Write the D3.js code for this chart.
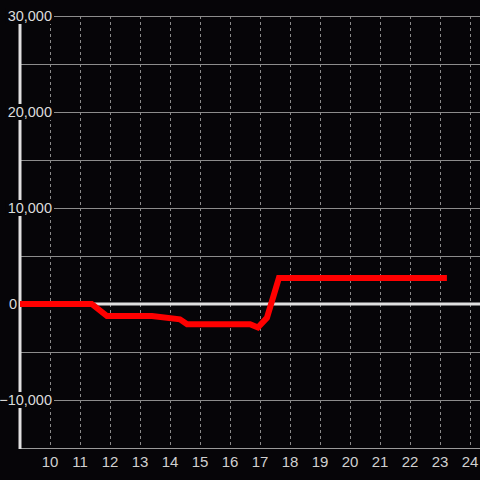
<!DOCTYPE html>
<html><head><meta charset="utf-8">
<script src="https://cdn.jsdelivr.net/npm/d3@7"></script>
<style>html,body{margin:0;padding:0;background:#060508;}svg{display:block;}</style>
</head><body>
<script>
const xValues = [9, 11.39, 11.9, 13.4, 14.33, 14.57, 16.67, 16.93, 17.23, 17.63, 23.23];
const yValues = [0, 0, -1250, -1250, -1600, -2100, -2100, -2450, -1450, 2700, 2700];
const xTicks = [10, 11, 12, 13, 14, 15, 16, 17, 18, 19, 20, 21, 22, 23, 24];
const yGrid = [-15000, -10000, -5000, 0, 5000, 10000, 15000, 20000, 25000, 30000];
const yLabels = [-10000, 0, 10000, 20000, 30000];

const W = 480, H = 480;
const x = d3.scaleLinear().domain([9, 24.3333]).range([20, 480]);
const y = d3.scaleLinear().domain([-15000, 30000]).range([448, 16]);
const svg = d3.select("body").append("svg").attr("width", W).attr("height", H);
svg.append("rect").attr("width", W).attr("height", H).attr("fill", "#060508");

svg.append("g").selectAll("line").data(xTicks).join("line")
  .attr("x1", d => x(d) + 0.5).attr("x2", d => x(d) + 0.5)
  .attr("y1", 16).attr("y2", 448)
  .attr("stroke", "#8a8a8a").attr("stroke-width", 1).attr("stroke-dasharray", "3,3");

svg.append("g").selectAll("line").data(yGrid.filter(d => d !== 0 && d !== -15000)).join("line")
  .attr("x1", 20).attr("x2", 480)
  .attr("y1", d => Math.round(y(d)) + 0.5).attr("y2", d => Math.round(y(d)) + 0.5)
  .attr("stroke", "#8c8c8c").attr("stroke-width", 1);

svg.append("line").attr("x1", 20).attr("x2", 480).attr("y1", 448.5).attr("y2", 448.5)
  .attr("stroke", "#9a9a9a").attr("stroke-width", 1);

svg.append("line").attr("x1", 20).attr("x2", 480).attr("y1", y(0)).attr("y2", y(0))
  .attr("stroke", "#e0e0e0").attr("stroke-width", 3);

svg.append("line").attr("x1", 20).attr("x2", 20).attr("y1", 16).attr("y2", 449)
  .attr("stroke", "#e0e0e0").attr("stroke-width", 3);

const line = d3.line().x((d, i) => x(xValues[i])).y(d => y(d));
svg.append("path").datum(yValues).attr("d", line)
  .attr("fill", "none").attr("stroke", "#ff0000").attr("stroke-width", 6)
  .attr("stroke-linejoin", "miter").attr("stroke-linecap", "butt");

const fmt = d3.format(",");
const FONT = "'Liberation Sans', Arial, sans-serif";
const yl = svg.append("g").selectAll("g").data(yLabels).join("g");
yl.each(function(d) {
  const g = d3.select(this);
  const t = g.append("text")
    .attr("x", d === 0 ? 17 : 52).attr("y", y(d))
    .attr("dy", "0.36em").attr("text-anchor", "end")
    .attr("font-family", FONT).attr("font-size", 14.5)
    .attr("fill", "#dcdcdc").text(fmt(d));
  if (d !== 0) {
    const b = t.node().getBBox();
    g.insert("rect", "text").attr("x", b.x - 2).attr("y", y(d) - 8)
      .attr("width", b.width + 4).attr("height", 16).attr("fill", "#060508");
  }
});

svg.append("g").selectAll("text").data(xTicks).join("text")
  .attr("x", d => x(d)).attr("y", 467).attr("text-anchor", "middle")
  .attr("font-family", FONT).attr("font-size", 15)
  .attr("fill", "#d0d0d0").text(d => d);
</script>
</body></html>
